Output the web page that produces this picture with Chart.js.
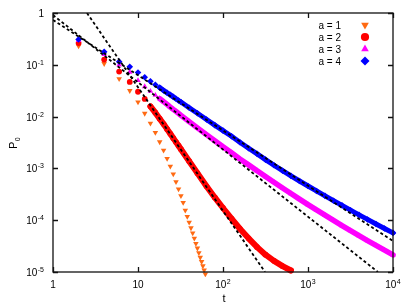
<!DOCTYPE html>
<html>
<head>
<meta charset="utf-8">
<script src="https://cdn.jsdelivr.net/npm/chart.js@4.4.1/dist/chart.umd.min.js"></script>
<style>
html, body { margin: 0; padding: 0; background: #fff; }
canvas { display: block; }
</style>
</head>
<body>
<canvas id="plot" width="409" height="308"></canvas>
<script>
// time grid: every even step at the start, then roughly log spaced
var tGrid = [2,4,6,8,10,12,14,16,18,20,22,24,26,28,30,
    32,40,50,64,80,100,126,158,200,252,316,398,502,630,794,
    1000,1258,1584,1996,2512,3162,3982,5012,6310,7944,10000];
var tA1 = [2,4,6,8,10,12,14,16,18,20,22,24,26,28,30,32,34,36,38,40,42,44,46,48,50,52,54,56,58,60,62,64];

var pA1 = [0.229,0.105,0.0537,0.0316,0.0191,0.0115,0.00741,0.00490,0.00324,0.00224,0.00155,0.00110,
    0.000776,0.000550,0.000398,0.000295,0.000219,0.000155,0.000118,0.0000910,0.0000708,0.0000562,
    0.0000447,0.0000355,0.0000288,0.0000234,0.0000191,0.0000158,0.0000131,0.0000109,0.0000091,0.0000076];
var pA2 = [0.263,0.126,0.0741,0.0468,0.0302,0.0219,0.0158,0.0119,0.00912,0.00716,0.00573,0.00466,
    0.00384,0.00322,0.00274,0.00234,0.001377,0.000809,0.000451,0.000275,0.000172,0.000107,
    0.0000684,0.0000447,0.0000302,0.0000216,0.0000164,0.0000130,0.0000107];
var pA3 = [0.295,0.158,0.100,0.0724,0.0501,0.0380,0.0309,0.0260,0.0223,0.0194,0.0172,0.0153,
    0.0138,0.0126,0.0115,0.01057,0.00798,0.00605,0.00448,0.00342,0.00262,0.00200,0.00152,
    0.00117,0.000899,0.000695,0.000538,0.000419,0.000327,0.000255,0.000200,0.000158,0.000125,
    0.0000989,0.0000787,0.0000628,0.0000502,0.0000404,0.0000326,0.0000264,0.0000214];
var pA4 = [0.309,0.178,0.115,0.0912,0.0708,0.0575,0.0479,0.0412,0.0363,0.0320,0.0288,0.0263,
    0.0240,0.0221,0.0204,0.0191,0.0148,0.0116,0.00881,0.00684,0.00537,0.00417,0.00320,
    0.00245,0.00191,0.00148,0.00115,0.000902,0.000716,0.000571,0.000457,0.000367,0.000295,
    0.000238,0.000193,0.000156,0.000127,0.0001035,0.0000845,0.0000692,0.0000569];

// power law fits (end points of the dashed lines)
var fitA2T = [2.51, 312], fitA2P = [1, 1e-5];
var fitA3T = [1, 6650], fitA3P = [0.912, 1e-5];
var fitA4T = [1, 10000], fitA4P = [0.733, 3.98e-5];

var xTicks = [1, 10, 100, 1000, 10000];
var xTickLabels = ['1', '10', '10^2', '10^3', '10^4'];
var yTicks = [1, 1e-1, 1e-2, 1e-3, 1e-4, 1e-5];
var yTickLabels = ['1', '10^-1', '10^-2', '10^-3', '10^-4', '10^-5'];

var FONT = '"Liberation Sans", Arial, sans-serif';

function pts(ts, ps) {
    return ps.map(function (p, i) { return {x: ts[i], y: p}; });
}

function dataSet(label, ts, ps, color, style, rot, r, band, lw, order) {
    return {
        label: label,
        data: pts(ts, ps),
        showLine: true,
        borderColor: color,
        borderWidth: lw,
        borderCapStyle: 'round',
        borderJoinStyle: 'round',
        segment: {
            borderColor: function (c) { return ts[c.p0DataIndex] >= band ? color : 'transparent'; }
        },
        pointStyle: style,
        rotation: rot,
        pointRadius: r,
        pointBackgroundColor: color,
        pointBorderWidth: 0,
        clip: 5,
        order: order,
        legendRadius: r + 1.2
    };
}

function fitSet(ts, ps) {
    return {
        label: '',
        data: pts(ts, ps),
        borderColor: '#000',
        borderWidth: 1.8,
        borderDash: [3, 2.5],
        pointRadius: 0,
        order: 0
    };
}

function drawPow(ctx, text, x, y, align) {
    var parts = text.split('^');
    ctx.font = '10px ' + FONT;
    var w1 = ctx.measureText(parts[0]).width;
    var w2 = 0;
    if (parts[1]) {
        ctx.font = '7px ' + FONT;
        w2 = ctx.measureText(parts[1]).width + 0.5;
    }
    var x0 = align == 'center' ? x - (w1 + w2) / 2 : x - (w1 + w2);
    ctx.textAlign = 'left';
    ctx.font = '10px ' + FONT;
    ctx.fillText(parts[0], x0, y);
    if (parts[1]) {
        ctx.font = '7px ' + FONT;
        ctx.fillText(parts[1], x0 + w1 + 0.5, y - 4);
    }
}

var frame = {
    id: 'frame',
    afterDraw: function (chart) {
        var ctx = chart.ctx, a = chart.chartArea;
        var sx = chart.scales.x, sy = chart.scales.y;
        ctx.save();
        ctx.strokeStyle = '#111';
        ctx.lineWidth = 1.3;
        ctx.strokeRect(a.left, a.top, a.right - a.left, a.bottom - a.top);
        ctx.beginPath();
        xTicks.forEach(function (v) {
            var px = Math.round(sx.getPixelForValue(v)) + 0.5;
            ctx.moveTo(px, a.bottom); ctx.lineTo(px, a.bottom - 5);
            ctx.moveTo(px, a.top); ctx.lineTo(px, a.top + 5);
        });
        yTicks.forEach(function (v) {
            var py = Math.round(sy.getPixelForValue(v)) + 0.5;
            ctx.moveTo(a.left, py); ctx.lineTo(a.left + 5, py);
            ctx.moveTo(a.right, py); ctx.lineTo(a.right - 5, py);
        });
        ctx.stroke();

        ctx.fillStyle = '#000';
        ctx.textBaseline = 'alphabetic';
        xTicks.forEach(function (v, i) {
            drawPow(ctx, xTickLabels[i], sx.getPixelForValue(v), a.bottom + 16, 'center');
        });
        yTicks.forEach(function (v, i) {
            drawPow(ctx, yTickLabels[i], a.left - 9, sy.getPixelForValue(v) + 4, 'right');
        });

        // axis titles
        ctx.font = '11px ' + FONT;
        ctx.textAlign = 'center';
        ctx.fillText('t', (a.left + a.right) / 2 + 1, 302);
        ctx.save();
        ctx.translate(17, 143);
        ctx.rotate(-Math.PI / 2);
        ctx.textAlign = 'left';
        ctx.font = '11px ' + FONT;
        var pw = ctx.measureText('P').width;
        ctx.fillText('P', -6, 0);
        ctx.font = '7px ' + FONT;
        ctx.fillText('0', -6 + pw + 0.5, 3);
        ctx.restore();

        // key
        var row = 0;
        chart.data.datasets.forEach(function (ds) {
            if (!ds.label) return;
            var yy = a.top + 12 + row * 12;
            ctx.font = '10px ' + FONT;
            ctx.textAlign = 'right';
            ctx.fillText(ds.label, a.right - 52, yy + 3.5);
            ctx.fillStyle = ds.pointBackgroundColor;
            Chart.helpers.drawPoint(ctx, {
                pointStyle: ds.pointStyle, rotation: ds.rotation,
                radius: ds.legendRadius, borderWidth: 0
            }, a.right - 28, yy);
            ctx.fillStyle = '#000';
            row++;
        });
        ctx.restore();
    }
};

new Chart(document.getElementById('plot'), {
    type: 'line',
    data: {
        datasets: [
            fitSet(fitA2T, fitA2P),
            fitSet(fitA3T, fitA3P),
            fitSet(fitA4T, fitA4P),
            dataSet('a = 1', tA1, pA1, '#ff6a13', 'triangle', 180, 3.2, Infinity, 0, 4),
            dataSet('a = 2', tGrid, pA2, '#ff0000', 'circle', 0, 2.9, 14, 6, 3),
            dataSet('a = 3', tGrid, pA3, '#ff00ff', 'triangle', 0, 3.2, 18, 5.5, 2),
            dataSet('a = 4', tGrid, pA4, '#0000ff', 'rectRot', 0, 3.3, 18, 5, 1)
        ]
    },
    options: {
        responsive: false,
        animation: false,
        layout: { padding: { left: 53, right: 16, top: 13, bottom: 36 } },
        scales: {
            x: { type: 'logarithmic', min: 1, max: 10000, display: false },
            y: { type: 'logarithmic', min: 1e-5, max: 1, display: false }
        },
        plugins: { legend: { display: false }, tooltip: { enabled: false } }
    },
    plugins: [frame]
});
</script>
</body>
</html>
